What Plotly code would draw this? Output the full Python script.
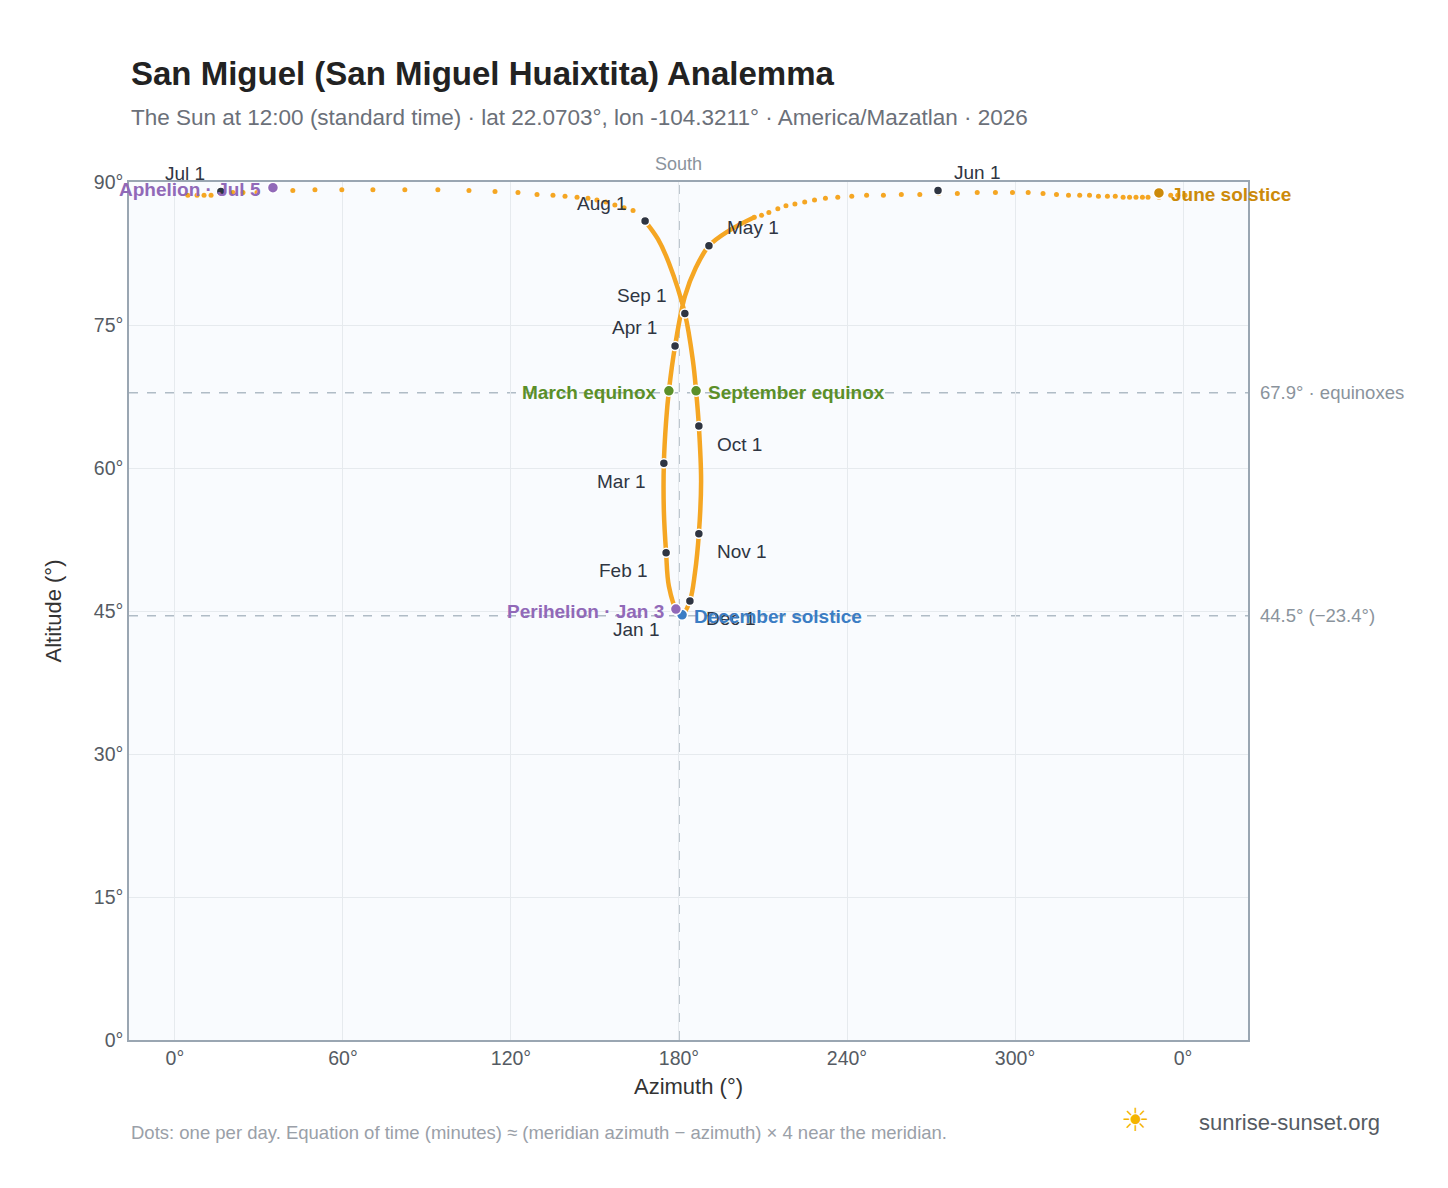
import plotly.graph_objects as go

# main loop (Aug 1 -> ... -> May 1)
loop_az = [167.9, 172.5, 176.4, 182.1, 185.0, 186.1, 187.1, 187.9, 187.1, 185.7, 183.9, 181.1,
           179.3, 176.4, 175.4, 174.6, 174.6, 175.4, 176.4, 178.6, 182.1, 186.0, 190.7, 197.9, 206.9]
loop_alt = [85.9, 84.0, 81.5, 76.2, 71.2, 68.1, 64.4, 58.6, 53.1, 49.0, 46.05, 44.6,
            45.0, 47.6, 51.1, 55.5, 60.5, 64.9, 68.1, 72.8, 78.0, 81.0, 83.3, 84.9, 86.3]

# separate daily dots near the zenith (May -> Jun -> Jul -> Aug)
top_az = [206.9, 209.5, 212.1, 215.3, 218.2, 221.4, 224.9, 228.4, 232.3, 236.7, 241.7, 247.0,
          253.0, 259.4, 266.0, 272.7, 279.4, 286.5, 293.0, 299.1, 304.7, 310.0, 314.8, 319.1,
          323.1, 326.6, 329.8, 333.0, 335.8, 338.6, 340.9, 343.2, 345.5, 347.5, 351.4, 355.6,
          358.1, 360.7, 4.6, 7.9, 10.4, 12.9, 16.4, 20.7, 24.3, 29.3, 35.0, 42.1, 50.0, 59.6,
          70.7, 82.1, 93.9, 105.0, 114.3, 122.5, 129.3, 135.0, 139.3, 143.6, 147.5, 150.7,
          153.9, 157.1, 160.4, 163.6]
top_alt = [86.3, 86.5, 86.8, 87.2, 87.5, 87.7, 87.9, 88.1, 88.3, 88.4, 88.5, 88.6,
           88.6, 88.7, 88.7, 88.8, 88.8, 88.9, 88.9, 88.9, 88.9, 88.8, 88.7, 88.6,
           88.6, 88.6, 88.5, 88.5, 88.5, 88.4, 88.4, 88.4, 88.4, 88.4, 88.4, 88.6,
           88.6, 88.6, 88.6, 88.6, 88.6, 88.6, 89.0, 88.9, 88.9, 88.9, 89.2, 89.1, 89.2, 89.2,
           89.2, 89.2, 89.2, 89.1, 89.0, 88.9, 88.7, 88.6, 88.5, 88.4, 88.3, 88.1,
           87.9, 87.6, 87.3, 87.0]

months = ["Jan 1", "Feb 1", "Mar 1", "Apr 1", "May 1", "Jun 1", "Jul 1", "Aug 1", "Sep 1", "Oct 1", "Nov 1", "Dec 1"]
month_az = [179.3, 175.4, 174.6, 178.6, 190.7, 272.5, 16.4, 167.9, 182.1, 187.1, 187.1, 183.9]
month_alt = [45.0, 51.1, 60.5, 72.8, 83.3, 89.1, 89.0, 85.9, 76.2, 64.4, 53.1, 46.05]
month_ax = [-16, -16, -16, -16, 16, 14, -14, -16, -16, 16, 16, 14]
month_ay = [18, 18, 18, -18, -18, -18, -18, -18, -18, 18, 18, 18]

events = ["March equinox", "September equinox", "June solstice", "December solstice", "Perihelion · Jan 3", "Aphelion · Jul 5"]
event_az = [176.4, 186.1, 351.4, 181.1, 178.9, 35.0]
event_alt = [68.1, 68.1, 88.85, 44.6, 45.2, 89.4]
event_col = ["#5b8f29", "#5b8f29", "#cc8a0a", "#3b7dc4", "#9169b8", "#9169b8"]
event_side = ["left", "right", "right", "right", "left", "left"]

ORANGE = "#f5a623"

fig = go.Figure()
fig.add_trace(go.Scatter(x=loop_az, y=loop_alt, mode="lines", line=dict(color=ORANGE, width=4.5, shape="spline"),
                         hoverinfo="skip", showlegend=False))
fig.add_trace(go.Scatter(x=top_az, y=top_alt, mode="markers", marker=dict(color=ORANGE, size=5),
                         hoverinfo="skip", showlegend=False))
fig.add_trace(go.Scatter(x=month_az, y=month_alt, mode="markers",
                         marker=dict(color="#2f3542", size=9, line=dict(color="white", width=1.5)),
                         showlegend=False))
fig.add_trace(go.Scatter(x=event_az, y=event_alt, mode="markers",
                         marker=dict(color=event_col, size=11, line=dict(color="white", width=1.5)),
                         showlegend=False))

for m, x, y, ax, ay in zip(months, month_az, month_alt, month_ax, month_ay):
    fig.add_annotation(x=x, y=y, text=m, showarrow=True, arrowcolor="rgba(0,0,0,0)", ax=ax, ay=ay,
                       font=dict(size=19, color="#2f3542"),
                       xanchor="right" if ax < 0 else "left")
for e, x, y, c, s in zip(events, event_az, event_alt, event_col, event_side):
    fig.add_annotation(x=x, y=y, text="<b>%s</b>" % e, showarrow=False, xshift=-10 if s == "left" else 10,
                       yshift=-2, xanchor="right" if s == "left" else "left", font=dict(size=19, color=c))

for yv, lab in [(67.9, "67.9° · equinoxes"), (44.5, "44.5° (−23.4°)")]:
    fig.add_shape(type="line", xref="paper", x0=-0.0, x1=1.0, y0=yv, y1=yv, layer="below",
                  line=dict(color="#b0bcc6", width=1.5, dash="dash"))
    fig.add_annotation(xref="paper", x=1.0, y=yv, text=lab, showarrow=False, xanchor="left", xshift=10,
                       font=dict(size=18.5, color="#8a939c"))
fig.add_shape(type="line", x0=180, x1=180, yref="paper", y0=0, y1=1, layer="below",
              line=dict(color="#a8b4be", width=1.5, dash="dash"))
fig.add_annotation(x=180, yref="paper", y=1, text="South", showarrow=False, yanchor="bottom", yshift=6,
                   font=dict(size=18, color="#8a939c"))

fig.add_annotation(xref="paper", yref="paper", x=0, y=1, xanchor="left", yanchor="bottom", yshift=88,
                   text="<b>San Miguel (San Miguel Huaixtita) Analemma</b>", showarrow=False,
                   font=dict(size=33, color="#222"))
fig.add_annotation(xref="paper", yref="paper", x=0, y=1, xanchor="left", yanchor="bottom", yshift=50,
                   text="The Sun at 12:00 (standard time) · lat 22.0703°, lon -104.3211° · America/Mazatlan · 2026",
                   showarrow=False, font=dict(size=22.5, color="#6b7079"))
fig.add_annotation(xref="paper", yref="paper", x=0, y=0, xanchor="left", yanchor="top", yshift=-80,
                   text="Dots: one per day. Equation of time (minutes) ≈ (meridian azimuth − azimuth) × 4 near the meridian.",
                   showarrow=False, font=dict(size=18.5, color="#9aa0a8"))
fig.add_annotation(xref="paper", yref="paper", x=1.12, y=0, xanchor="right", yanchor="top", yshift=-68,
                   text="sunrise-sunset.org", showarrow=False, font=dict(size=22, color="#555b63"))
fig.add_annotation(xref="paper", yref="paper", x=0.885, y=0, xanchor="left", yanchor="top", yshift=-60,
                   text="☀", showarrow=False, font=dict(size=32, color="#f4b400"))

fig.update_layout(
    width=1448, height=1188, margin=dict(l=121, r=208, t=174, b=156),
    paper_bgcolor="white", plot_bgcolor="#f9fbfe",
    font=dict(family="Liberation Sans, Arial, sans-serif", color="#555b63"),
    xaxis=dict(range=[-16.4, 383.2], tickvals=[0, 60, 120, 180, 240, 300, 360],
               ticktext=["0°", "60°", "120°", "180°", "240°", "300°", "0°"],
               title=dict(text="Azimuth (°)", font=dict(size=22, color="#333"), standoff=10), tickfont=dict(size=19.5),
               showgrid=True, gridcolor="#e6eaee", zeroline=False, showline=True, linecolor="#9aa6b2",
               linewidth=1.5, mirror=True, ticks=""),
    yaxis=dict(range=[0, 90], tickvals=[0, 15, 30, 45, 60, 75, 90],
               ticktext=["0°", "15°", "30°", "45°", "60°", "75°", "90°"],
               title=dict(text="Altitude (°)", font=dict(size=22, color="#333"), standoff=26), tickfont=dict(size=19.5),
               showgrid=True, gridcolor="#e6eaee", zeroline=False, showline=True, linecolor="#9aa6b2",
               linewidth=1.5, mirror=True, ticks=""),
)

fig.write_html("out.html")
